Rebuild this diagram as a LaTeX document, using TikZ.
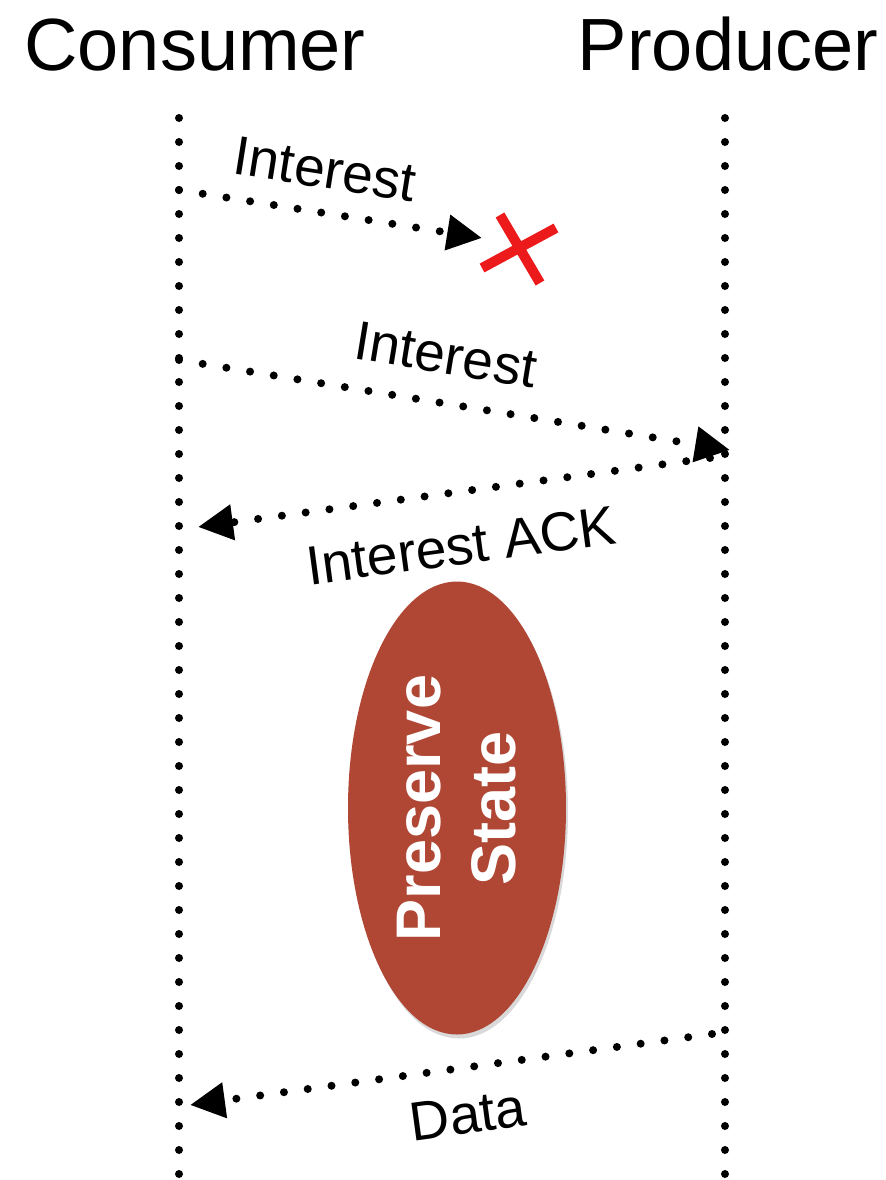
\documentclass[tikz,border=0pt]{standalone}
\usepackage{fontspec}
\setmainfont{Liberation Sans}
\usepackage{xcolor}
\usetikzlibrary{arrows.meta, shapes.geometric, shadows}

\definecolor{tijolo}{RGB}{176,70,52}
\definecolor{xis}{RGB}{236,26,26}

\begin{document}
\begin{tikzpicture}[
    x=0.5pt, y=-0.5pt,
    every node/.style={inner sep=0pt},
    pontilhado/.style={line width=4pt, line cap=round, dash pattern=on 0pt off 12pt},
    seta/.style={pontilhado, -{Triangle[length=17.5pt, width=17pt]}},
    rotulo/.style={font=\fontsize{27.5}{33}\selectfont, sloped}
  ]
  \tikzset{
    titulo/.style={font=\fontsize{37}{44}\selectfont, anchor=base},
    estado/.style={ellipse, fill=tijolo, text=white, align=center,
      minimum width=226.5pt, minimum height=109pt, rotate=90,
      font=\fontsize{31.5}{37.5}\selectfont\bfseries,
      drop shadow={shadow xshift=1pt, shadow yshift=-2pt, opacity=.3}}
  }
  \useasboundingbox (0,0) rectangle (886,1180);

  % titles
  \node[titulo] (cons) at (195,70) {Consumer};
  \node[titulo] (prod) at (728,70) {Producer};

  % lifelines
  \coordinate (c0) at (179,118);
  \coordinate (c1) at (179,1176);
  \coordinate (p0) at (725,118);
  \coordinate (p1) at (725,1176);
  \draw[pontilhado] (c0) -- (c1);
  \draw[pontilhado] (p0) -- (p1);

  % lost interest
  \coordinate (i1a) at (179,190);
  \coordinate (i1b) at (482,238);
  \draw[seta] (i1a) -- node[rotulo, above, inner sep=10pt, pos=.46] {Interest} (i1b);
  \coordinate (perda) at (518,250);
  \draw[xis, line width=5pt] ([shift={(-36,18)}]perda) -- ([shift={(38,-22)}]perda)
    ([shift={(-18,-35)}]perda) -- ([shift={(22,33)}]perda);

  % interest and ack
  \coordinate (i2a) at (179,360);
  \coordinate (i2b) at (730,450);
  \draw[seta] (i2a) -- node[rotulo, above, inner sep=12.5pt, pos=.47] {Interest} (i2b);
  \coordinate (acka) at (710,458);
  \coordinate (ackb) at (198,527);
  \draw[seta] (acka) -- node[rotulo, below, inner sep=15pt] {Interest ACK} (ackb);

  % producer keeps state
  \node[estado] (est) at (457,808) {Preserve\\State};

  % data back
  \coordinate (da) at (712,1034);
  \coordinate (db) at (190,1105);
  \draw[seta] (da) -- node[rotulo, below, inner sep=12pt, pos=.48] {Data} (db);
\end{tikzpicture}
\end{document}
